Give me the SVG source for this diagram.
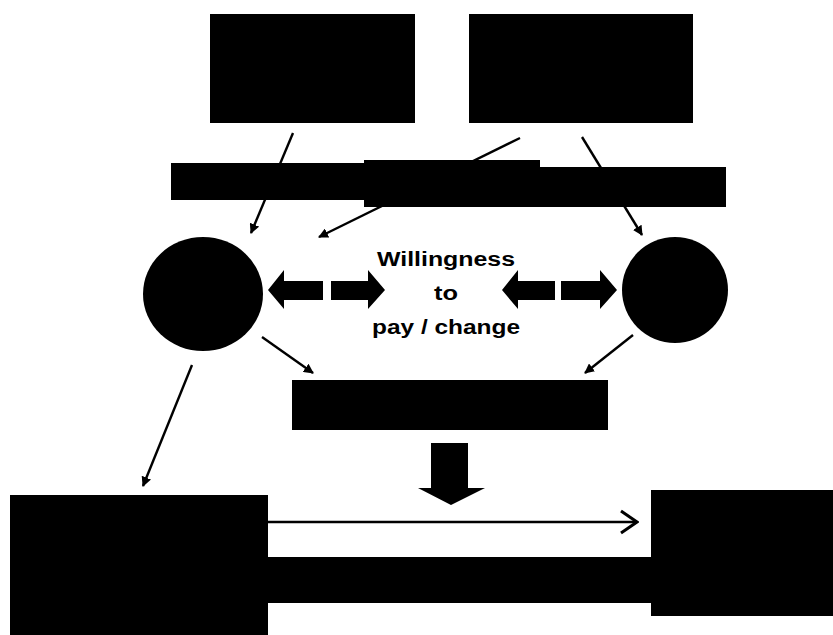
<svg xmlns="http://www.w3.org/2000/svg" width="833" height="635" viewBox="0 0 833 635">
<style>
.n{fill:#000;stroke:none}
.c{stroke:#000;stroke-width:2.4;fill:none}
.b{fill:#000;stroke:none}
.t{font-family:"Liberation Sans",Arial,sans-serif;font-weight:bold;font-size:20px;fill:#000}
</style>
<defs>
<marker id="ah" viewBox="0 0 10 10" refX="9" refY="5" markerWidth="10" markerHeight="10" markerUnits="userSpaceOnUse" orient="auto">
<path d="M0,0 L10,5 L0,10 Z" fill="#000"/>
</marker>
<marker id="oh" viewBox="0 0 20 26" refX="18" refY="13" markerWidth="20" markerHeight="26" markerUnits="userSpaceOnUse" orient="auto">
<path d="M2,2 L18,13 L2,24" fill="none" stroke="#000" stroke-width="3"/>
</marker>
</defs>
<rect width="833" height="635" fill="#fff"/>
<g id="connectors">
<line class="c" x1="293" y1="133" x2="251" y2="233" marker-end="url(#ah)"/>
<line class="c" x1="520" y1="138" x2="319" y2="237" marker-end="url(#ah)"/>
<line class="c" x1="582" y1="137" x2="642" y2="235" marker-end="url(#ah)"/>
<line class="c" x1="262" y1="337" x2="313" y2="373" marker-end="url(#ah)"/>
<line class="c" x1="633" y1="335" x2="585" y2="373" marker-end="url(#ah)"/>
<line class="c" x1="192" y1="365" x2="143" y2="486" marker-end="url(#ah)"/>
<line class="c" x1="268" y1="522" x2="637" y2="522" stroke-width="1.8" marker-end="url(#oh)"/>
<path class="b" d="M268,290 L284,270 L284,281 L323,281 L323,300 L284,300 L284,309 Z"/>
<path class="b" d="M331,281 L368,281 L368,270 L385,290 L368,309 L368,300 L331,300 Z"/>
<path class="b" d="M502,290 L518,270 L518,281 L555,281 L555,300 L518,300 L518,309 Z"/>
<path class="b" d="M561,281 L600,281 L600,270 L617,290 L600,309 L600,300 L561,300 Z"/>
<path class="b" d="M431,443 L468,443 L468,488 L485,488 L451,505 L418,488 L431,488 Z"/>
</g>
<g id="box-top-left"><rect class="n" x="210" y="14" width="205" height="109"/></g>
<g id="box-top-right"><rect class="n" x="469" y="14" width="224" height="109"/></g>
<g id="bar">
<rect class="n" x="171" y="163" width="200" height="37"/>
<rect class="n" x="364" y="160" width="176" height="47"/>
<rect class="n" x="538" y="167" width="188" height="40"/>
</g>
<g id="circle-left"><ellipse class="n" cx="203" cy="294" rx="60" ry="57"/></g>
<g id="circle-right"><ellipse class="n" cx="675" cy="290" rx="53" ry="53"/></g>
<g id="label-wtp">
<text class="t" x="446" y="266" text-anchor="middle" textLength="138" lengthAdjust="spacingAndGlyphs">Willingness</text>
<text class="t" x="446" y="300" text-anchor="middle" textLength="24" lengthAdjust="spacingAndGlyphs">to</text>
<text class="t" x="446" y="334" text-anchor="middle" textLength="148" lengthAdjust="spacingAndGlyphs">pay / change</text>
</g>
<g id="box-middle"><rect class="n" x="292" y="380" width="316" height="50"/></g>
<g id="box-bottom-left"><rect class="n" x="10" y="495" width="258" height="140"/></g>
<g id="band-bottom"><rect class="n" x="268" y="557" width="384" height="46"/></g>
<g id="box-bottom-right"><rect class="n" x="651" y="490" width="182" height="126"/></g>
</svg>
